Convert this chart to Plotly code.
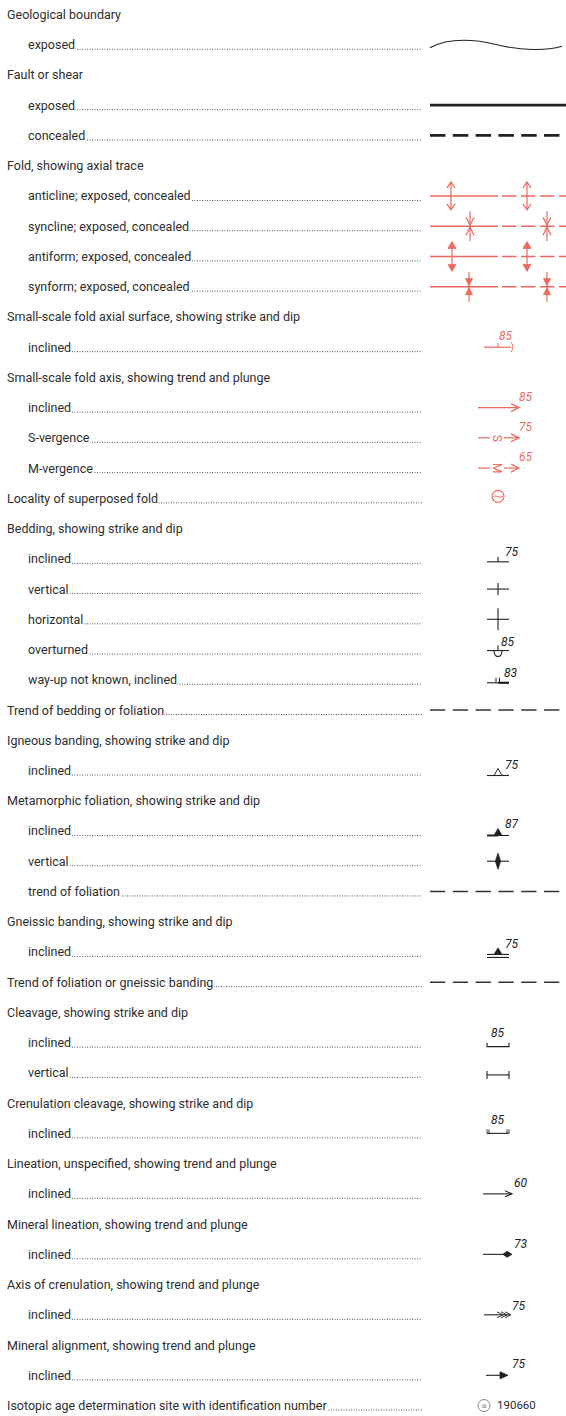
import plotly.graph_objects as go

# ---------------- data ----------------
row_labels = [
    "Geological boundary", "exposed", "Fault or shear", "exposed", "concealed",
    "Fold, showing axial trace", "anticline; exposed, concealed", "syncline; exposed, concealed",
    "antiform; exposed, concealed", "synform; exposed, concealed",
    "Small-scale fold axial surface, showing strike and dip", "inclined",
    "Small-scale fold axis, showing trend and plunge", "inclined", "S-vergence", "M-vergence",
    "Locality of superposed fold",
    "Bedding, showing strike and dip", "inclined", "vertical", "horizontal", "overturned",
    "way-up not known, inclined",
    "Trend of bedding or foliation",
    "Igneous banding, showing strike and dip", "inclined",
    "Metamorphic foliation, showing strike and dip", "inclined", "vertical", "trend of foliation",
    "Gneissic banding, showing strike and dip", "inclined",
    "Trend of foliation or gneissic banding",
    "Cleavage, showing strike and dip", "inclined", "vertical",
    "Crenulation cleavage, showing strike and dip", "inclined",
    "Lineation, unspecified, showing trend and plunge", "inclined",
    "Mineral lineation, showing trend and plunge", "inclined",
    "Axis of crenulation, showing trend and plunge", "inclined",
    "Mineral alignment, showing trend and plunge", "inclined",
    "Isotopic age determination site with identification number",
]
row_indent = [0, 1, 0, 1, 1, 0, 1, 1, 1, 1, 0, 1, 0, 1, 1, 1, 0, 0, 1, 1, 1, 1, 1, 0, 0, 1,
              0, 1, 1, 1, 0, 1, 0, 0, 1, 1, 0, 1, 0, 1, 0, 1, 0, 1, 0, 1, 0]
row_leader = [0, 1, 0, 1, 1, 0, 1, 1, 1, 1, 0, 1, 0, 1, 1, 1, 1, 0, 1, 1, 1, 1, 1, 1, 0, 1,
              0, 1, 1, 1, 0, 1, 1, 0, 1, 1, 0, 1, 0, 1, 0, 1, 0, 1, 0, 1, 1]
row_symbol = [None, "wave", None, "fault", "fault_c", None, "anticline", "syncline", "antiform",
              "synform", None, "axial_surface", None, "fold_axis", "s_verg", "m_verg",
              "superposed", None, "bed_incl", "bed_vert", "bed_horiz", "bed_over", "bed_unknown",
              "trend", None, "ign_incl", None, "met_incl", "met_vert", "trend", None, "gn_incl",
              "trend", None, "clv_incl", "clv_vert", None, "cren_incl", None, "lin", None,
              "min_lin", None, "cren_axis", None, "min_align", "isotope"]
row_value = [None] * 47
for i, v in {11: "85", 13: "85", 14: "75", 15: "65", 18: "75", 21: "85", 22: "83", 25: "75",
             27: "87", 31: "75", 34: "85", 37: "85", 39: "60", 41: "73", 43: "75", 45: "75",
             46: "190660"}.items():
    row_value[i] = v

# ---------------- style ----------------
W, H = 566, 1416
Y0, DY = 14.5, 30.24
FONT = "Roboto"
TXT = "#2e2e2e"
RED = "#ea6a5f"
BLK = "#222222"
GRY = "#777777"
CX = 498

shapes, annots = [], []


def L(x0, y0, x1, y1, c=BLK, w=1.2, dash=None):
    shapes.append(dict(type="line", xref="x", yref="y", x0=x0, y0=y0, x1=x1, y1=y1,
                       line=dict(color=c, width=w, dash=dash)))


def P(pts, c=BLK, w=1.2, fill=None, close=False):
    d = "M " + " L ".join(f"{x:.2f},{y:.2f}" for x, y in pts) + (" Z" if close else "")
    shapes.append(dict(type="path", xref="x", yref="y", path=d,
                       fillcolor=fill if fill else "rgba(0,0,0,0)",
                       line=dict(color=c, width=w)))


def PD(d, c=BLK, w=1.2, fill=None):
    shapes.append(dict(type="path", xref="x", yref="y", path=d,
                       fillcolor=fill if fill else "rgba(0,0,0,0)",
                       line=dict(color=c, width=w)))


def T(x, y, s, size=12, c=TXT, xa="left", italic=False, angle=0, bg=None, family=FONT):
    a = dict(x=x, y=y, xref="x", yref="y", text=f"<i>{s}</i>" if italic else s,
             showarrow=False, xanchor=xa, yanchor="middle", textangle=angle,
             font=dict(family=family, size=size, color=c), borderpad=0)
    if bg:
        a["bgcolor"] = bg
    annots.append(a)


def fold_line(y):
    L(430, y, 498, y, RED, 1.5)
    L(502, y, 566, y, RED, 1.5, "14.5px,4.5px")


def dip(x, y, v, c=BLK, xa="left"):
    T(x, y, v, size=12, c=c, xa=xa, italic=True)


def draw(sym, y, v):
    if sym == "wave":
        PD(f"M430,{y+3} C446,{y-5.5} 470,{y-6.5} 497,{y} C522,{y+6} 546,{y+6} 562,{y+1.5}",
           BLK, 1.1)
    elif sym == "fault":
        L(430, y, 566, y, BLK, 2.8)
    elif sym == "fault_c":
        L(430, y, 566, y, BLK, 2.8, "15.5px,7.3px")
    elif sym == "anticline":
        fold_line(y)
        for x in (451, 527):
            L(x, y - 14, x, y + 14, RED, 1.2)
            P([(x - 4, y - 8), (x, y - 14), (x + 4, y - 8)], RED, 1.2)
            P([(x - 4, y + 8), (x, y + 14), (x + 4, y + 8)], RED, 1.2)
    elif sym == "syncline":
        fold_line(y)
        for x in (470, 547):
            L(x, y - 15, x, y + 15, RED, 1.2)
            P([(x - 4, y - 9), (x, y - 1), (x + 4, y - 9)], RED, 1.2)
            P([(x - 4, y + 9), (x, y + 1), (x + 4, y + 9)], RED, 1.2)
    elif sym == "antiform":
        fold_line(y)
        for x in (452, 527):
            L(x, y - 10, x, y + 10, RED, 1.2)
            P([(x - 4, y - 8), (x, y - 15), (x + 4, y - 8)], RED, 0.8, RED, True)
            P([(x - 4, y + 8), (x, y + 15), (x + 4, y + 8)], RED, 0.8, RED, True)
    elif sym == "synform":
        fold_line(y)
        for x in (469, 547):
            L(x, y - 15, x, y + 15, RED, 1.2)
            P([(x - 3.5, y - 8), (x, y - 1), (x + 3.5, y - 8)], RED, 0.8, RED, True)
            P([(x - 3.5, y + 8), (x, y + 1), (x + 3.5, y + 8)], RED, 0.8, RED, True)
    elif sym == "axial_surface":
        L(484, y, 511, y, RED, 1.2)
        L(CX, y - 4, CX, y, RED, 1.0)
        PD(f"M511,{y-5} Q515,{y} 511,{y+5}", RED, 1.0)
        dip(498, y - 11, v, RED)
    elif sym in ("fold_axis", "s_verg", "m_verg"):
        if sym == "fold_axis":
            L(478, y, 519, y, RED, 1.2)
        else:
            L(478, y, 490, y, RED, 1.2)
            L(504, y, 519, y, RED, 1.2)
            T(497, y, "S" if sym == "s_verg" else "M", size=12, c=RED, xa="center", angle=90)
        P([(511, y - 4), (519, y), (511, y + 4)], RED, 1.2)
        dip(518, y - 11, v, RED)
    elif sym == "superposed":
        shapes.append(dict(type="circle", xref="x", yref="y", x0=CX - 6, x1=CX + 6,
                           y0=y - 8, y1=y + 4, line=dict(color=RED, width=1.1)))
        PD(f"M492.5,{y-1} C495,{y-5} 500,{y+2} 503.5,{y-3}", RED, 1.0)
    elif sym == "bed_incl":
        y = y + 3
        L(487, y, 509, y, BLK, 1.1)
        L(CX, y - 5, CX, y, BLK, 1.1)
        dip(504, y - 10, v)
    elif sym == "bed_vert":
        L(487, y, 509, y, BLK, 1.1)
        L(CX, y - 6, CX, y + 6, BLK, 1.1)
    elif sym == "bed_horiz":
        L(487, y, 509, y, BLK, 1.1)
        L(CX, y - 11, CX, y + 11, BLK, 1.1)
    elif sym == "bed_over":
        y = y + 1
        L(487, y, 509, y, BLK, 1.1)
        L(CX, y - 5, CX, y, BLK, 1.1)
        PD(f"M494,{y} C494,{y+8} 502,{y+8} 502,{y}", BLK, 1.1)
        dip(500, y - 9, v)
    elif sym == "bed_unknown":
        y = y + 3
        L(487, y, 498, y, BLK, 1.1)
        L(498, y, 509, y, BLK, 2.2)
        L(496, y - 5, 496, y, BLK, 1.0)
        L(499.5, y - 5, 499.5, y, BLK, 1.0)
        dip(503, y - 10, v)
    elif sym == "trend":
        L(430, y, 566, y, "#333333", 1.5, "15.3px,7.5px")
    elif sym == "ign_incl":
        y = y + 5
        L(487, y, 509, y, BLK, 1.1)
        P([(494, y), (CX, y - 7), (502, y)], BLK, 1.0)
        dip(504, y - 11, v)
    elif sym == "met_incl":
        y = y + 4.5
        L(487, y, CX, y, BLK, 2.0)
        L(CX, y, 509, y, BLK, 1.1)
        P([(494, y), (CX, y - 7), (502, y)], BLK, 0.8, BLK, True)
        dip(504, y - 11, v)
    elif sym == "met_vert":
        L(487, y, 509, y, BLK, 1.1)
        P([(CX, y - 8), (CX + 2.6, y), (CX, y + 8), (CX - 2.6, y)], BLK, 0.8, BLK, True)
    elif sym == "gn_incl":
        y = y + 4
        L(487, y - 1.5, 509, y - 1.5, BLK, 1.1)
        L(487, y + 1.5, 509, y + 1.5, BLK, 1.1)
        P([(494, y - 1.5), (CX, y - 8), (502, y - 1.5)], BLK, 0.8, BLK, True)
        dip(504, y - 12, v)
    elif sym == "clv_incl":
        y = y + 4
        P([(487, y - 4), (487, y), (509, y), (509, y - 4)], BLK, 1.1)
        dip(CX, y - 14, v, xa="center")
    elif sym == "clv_vert":
        y = y + 2
        L(487, y, 509, y, BLK, 1.1)
        L(487, y - 4, 487, y + 4, BLK, 1.1)
        L(509, y - 4, 509, y + 4, BLK, 1.1)
    elif sym == "cren_incl":
        L(487, y, 509, y, BLK, 1.1)
        for x in (487, 489, 507, 509):
            L(x, y - 4, x, y, BLK, 0.9)
        dip(CX, y - 13, v, xa="center")
    elif sym == "lin":
        L(483, y, 512, y, BLK, 1.1)
        P([(505, y - 3), (512, y), (505, y + 3)], BLK, 1.1)
        dip(513, y - 11, v)
    elif sym == "min_lin":
        L(483, y, 504, y, BLK, 1.1)
        P([(503, y), (507, y - 3), (512, y), (507, y + 3)], BLK, 0.8, BLK, True)
        dip(513, y - 10, v)
    elif sym == "cren_axis":
        L(484, y, 510, y, BLK, 1.1)
        for x in (503, 507, 511):
            P([(x - 6, y - 3), (x, y), (x - 6, y + 3)], BLK, 0.9)
        dip(511, y - 9, v)
    elif sym == "min_align":
        L(486, y, 501, y, BLK, 1.1)
        P([(500, y - 3.5), (508, y), (500, y + 3.5)], BLK, 0.8, BLK, True)
        dip(511, y - 11, v)
    elif sym == "isotope":
        shapes.append(dict(type="circle", xref="x", yref="y", x0=478, x1=490,
                           y0=y - 6, y1=y + 6, line=dict(color=GRY, width=0.9)))
        T(484, y, "∝", size=9, c=GRY, xa="center", family="DejaVu Sans")
        T(496, y - 1, v, size=11.5, c=TXT)


for i, lab in enumerate(row_labels):
    y = Y0 + i * DY
    x = 27 if row_indent[i] else 6
    if row_leader[i]:
        L(x + 10, y + 4.5, 422, y + 4.5, "#555555", 1.0, "1px,1.5px")
    T(x, y, lab, size=12.5, c=TXT, bg="white")
    if row_symbol[i]:
        draw(row_symbol[i], y, row_value[i])

fig = go.Figure(go.Scatter(x=[0], y=[0], mode="markers", marker=dict(opacity=0),
                           hoverinfo="skip", showlegend=False))
fig.update_layout(
    width=W, height=H, margin=dict(l=0, r=0, t=0, b=0),
    paper_bgcolor="white", plot_bgcolor="white", showlegend=False,
    xaxis=dict(range=[0, W], visible=False, fixedrange=True),
    yaxis=dict(range=[H, 0], visible=False, fixedrange=True),
    shapes=shapes, annotations=annots,
)
fig.write_html("out.html", config={"displayModeBar": False},
               post_script="document.body.style.margin='0';document.body.style.overflow='hidden';")
